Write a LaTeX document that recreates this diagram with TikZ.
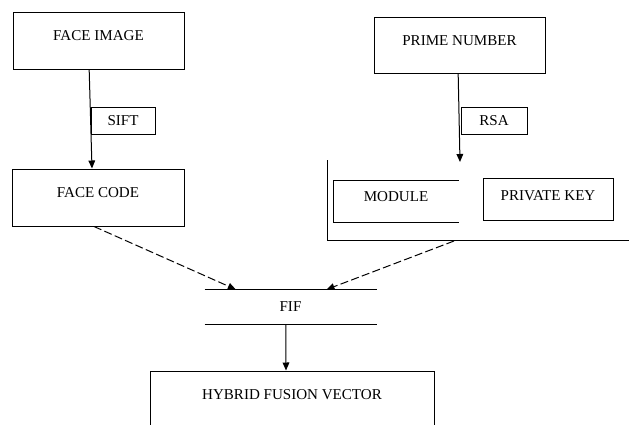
\documentclass[tikz,border=0pt]{standalone}
\usepackage{fontspec}
\setmainfont{Liberation Serif}
\usetikzlibrary{positioning, arrows.meta}

\begin{document}
\begin{tikzpicture}[x=0.75pt,y=-0.75pt,>={Triangle[length=6pt,width=5pt]},line width=0.75pt,
    every node/.style={font=\fontsize{11.3}{13}\selectfont,inner sep=0pt},
    box/.style={draw,text height=8pt,text depth=8pt,minimum height=42.75pt},
    tag/.style={draw,minimum height=20.25pt},
    flow/.style={->,dash pattern=on 6pt off 2.5pt}]
    \useasboundingbox (0,0) rectangle (629,425);

    \node[box,minimum width=128.25pt] (fimg) at (98.5,40.5) {FACE IMAGE};
    \node[box,minimum width=129pt] (fcode) at (98,197.5) {FACE CODE};
    \node[box,minimum width=128.25pt,minimum height=42pt] (prime) at (459.5,45) {PRIME NUMBER};
    \node[tag,minimum width=48pt] (sift) at (123,120.5) {SIFT};
    \node[tag,minimum width=49.5pt] (rsa) at (494,120.5) {RSA};

    % key pair
    \coordinate (kt) at (327,160);
    \coordinate (kr) at (629,240);
    \coordinate (kin) at (460,162);
    \node[text height=8pt,text depth=8pt,minimum width=93pt,minimum height=30.75pt] (module) at (396,201.5) {MODULE};
    \node[draw,text height=8pt,text depth=6pt,minimum width=97.5pt,minimum height=31.5pt] (pkey) at (548,199) {PRIVATE KEY};
    \draw (module.north east) -- (module.north west) -- (module.south west) -- (module.south east);
    \draw (kt) |- (kr);

    % fusion
    \node[minimum width=128.25pt,minimum height=25.5pt] (fif) at (290.5,307) {FIF};
    \draw (fif.north west) -- (fif.north east);
    \draw (fif.south west) -- (fif.south east);
    \node[box,minimum width=213pt] (hfv) at (292,399.5) {HYBRID FUSION VECTOR};

    \draw[->] ([xshift=-7pt]fimg.south) -- ([xshift=-4.5pt]fcode.north);
    \draw[->] ([xshift=-1pt]prime.south) -- (kin);
    \draw[flow] ([xshift=-3pt]fcode.south) -- ([xshift=-41pt]fif.north);
    \draw[flow] (454,241) -- ([xshift=27pt]fif.north);
    \draw[->] ([xshift=-3.5pt]fif.south) -- ([xshift=-4.5pt]hfv.north);
\end{tikzpicture}
\end{document}
